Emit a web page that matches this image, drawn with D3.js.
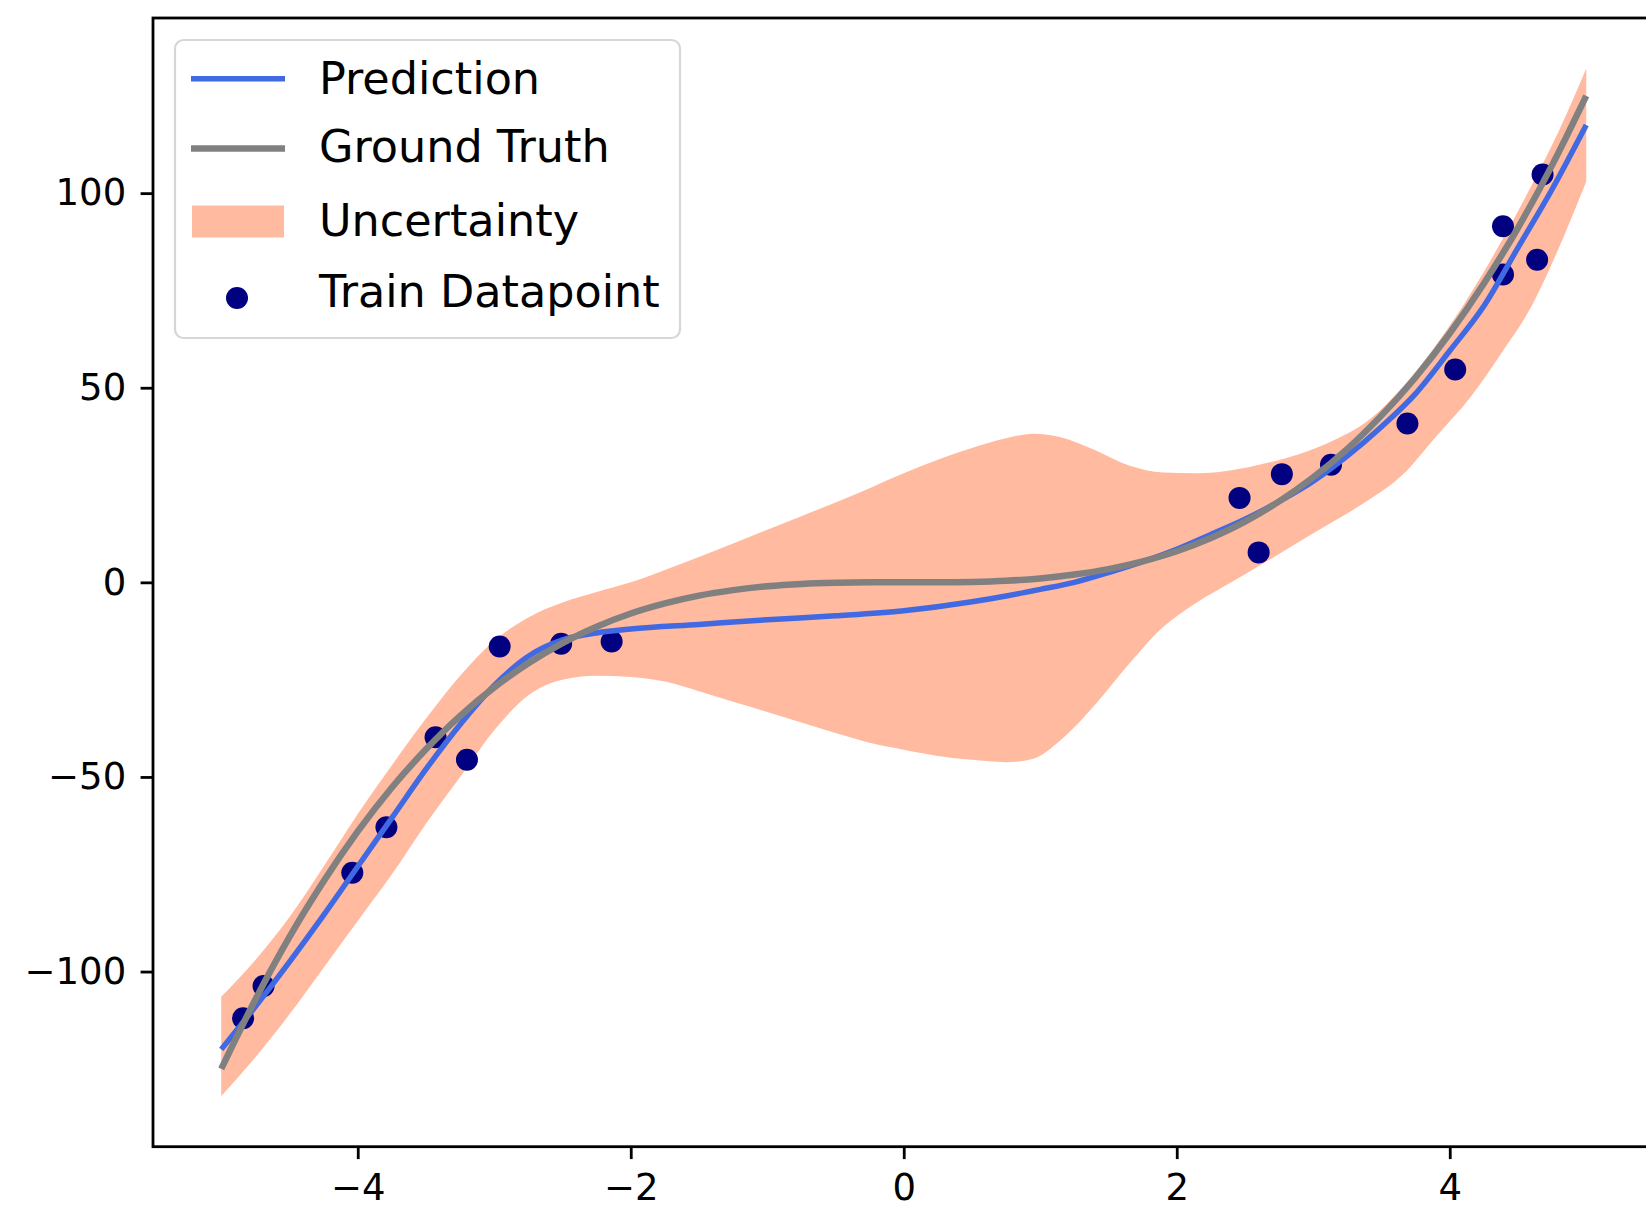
<!DOCTYPE html>
<html>
<head>
<meta charset="utf-8">
<script src="https://cdn.jsdelivr.net/npm/d3@7"></script>
<style>
	html, body { margin: 0; padding: 0; background: #ffffff; }
	svg { display: block; font-family: "DejaVu Sans", sans-serif; }
</style>
</head>
<body>
<svg id="chart" width="1646" height="1217"></svg>
<script>
// Prediction (blue line)
const predictionX = [-5, -4.75, -4.5, -4.25, -4, -3.75, -3.5, -3.25, -3, -2.75, -2.5, -2.25, -2, -1.5, -1, -0.5, 0, 0.5, 0.75, 1, 1.25, 1.5, 1.75, 2, 2.25, 2.5, 2.75, 3, 3.25, 3.5, 3.75, 4, 4.25, 4.5, 4.75, 5];
const predictionY = [-120, -109, -97.5, -85.5, -73, -60.5, -48, -36.5, -26.5, -19, -14.8, -13, -12, -10.8, -9.6, -8.6, -7.3, -5, -3.5, -1.8, 0, 2.5, 5.3, 8.5, 12.3, 16.2, 20.8, 26, 32.5, 40, 48.5, 59.5, 71, 86, 101, 117.5];

// Ground truth (gray line)
const truthX = [-5, -4.75, -4.5, -4.25, -4, -3.75, -3.5, -3.25, -3, -2.75, -2.5, -2.25, -2, -1.75, -1.5, -1.25, -1, -0.75, -0.5, -0.25, 0, 0.25, 0.5, 0.75, 1, 1.25, 1.5, 1.75, 2, 2.25, 2.5, 2.75, 3, 3.25, 3.5, 3.75, 4, 4.25, 4.5, 4.75, 5];
const truthY = [-125, -107.2, -91.1, -76.8, -64, -52.7, -42.9, -34.3, -27, -20.8, -15.6, -11.4, -8, -5.4, -3.4, -2, -1, -0.4, -0.1, 0, 0, 0, 0.1, 0.4, 1, 2, 3.4, 5.4, 8, 11.4, 15.6, 20.8, 27, 34.3, 42.9, 52.7, 64, 76.8, 91.1, 107.2, 125];

// Uncertainty band
const bandX = [-5, -4.75, -4.5, -4.25, -4, -3.75, -3.5, -3.25, -3, -2.75, -2.5, -2.25, -2, -1.75, -1.5, -1.25, -1, -0.75, -0.5, -0.25, 0, 0.25, 0.5, 0.75, 0.95, 1.15, 1.4, 1.65, 1.9, 2.15, 2.4, 2.65, 2.9, 3.15, 3.4, 3.65, 3.9, 4.15, 4.4, 4.6, 4.8, 5];
const bandUpper = [-106.5, -97, -86, -73, -59.5, -47, -35, -24, -15, -9, -5.2, -2.5, 0, 3.2, 6.5, 10, 13.5, 17, 20.5, 24.2, 28, 31.5, 34.5, 37, 38.2, 37.3, 34, 30, 28.2, 28, 28.8, 30.6, 33, 36.5, 41.5, 50, 61, 74, 89, 102, 116, 132];
const bandLower = [-132, -122, -111, -99, -87, -75, -62, -50, -38, -29, -25, -24, -24.3, -25.5, -28, -30.7, -33.3, -36, -38.7, -41.2, -43, -44.6, -45.6, -46.2, -45.3, -40.5, -31.5, -21, -11.5, -5.1, 0, 5.2, 10.5, 15.7, 21, 27.5, 37.5, 47.5, 60, 71, 86, 103];

// Train datapoints
const trainX = [-4.84, -4.69, -4.04, -3.79, -3.43, -3.20, -2.96, -2.51, -2.14, 2.46, 2.60, 2.77, 3.13, 3.69, 4.04, 4.39, 4.39, 4.64, 4.68];
const trainY = [-112, -103.7, -74.6, -62.9, -39.8, -45.6, -16.5, -15.8, -15.2, 21.7, 7.7, 27.8, 30.2, 40.8, 54.7, 79.1, 91.5, 82.9, 104.8];

// Axes
const xDomain = [-5.5, 5.5];
const yDomain = [-145, 145];
const xTicks = [-4, -2, 0, 2, 4];
const yTicks = [-100, -50, 0, 50, 100];

// Legend
const legendLabels = ["Prediction", "Ground Truth", "Uncertainty", "Train Datapoint"];

const colors = {
	prediction: "#4169E1",
	truth: "#808080",
	band: "#FFA07A",
	train: "#000080"
};


function drawChart(svgElement) {
	const svg = d3.select(svgElement);

	// Plot area in pixels (right spine lies just outside the picture)
	const plot = { left: 153, top: 18, right: 1654.5, bottom: 1146.7 };

	const x = d3.scaleLinear().domain(xDomain).range([plot.left, plot.right]);
	const y = d3.scaleLinear().domain(yDomain).range([plot.bottom, plot.top]);

	const tickSize = 12.4;
	const fontSize = 37;

	// Uncertainty band
	const bandPoints = bandX.map((value, i) => ({ x: value, lo: bandLower[i], hi: bandUpper[i] }));
	svg.append("path")
		.datum(bandPoints)
		.attr("fill", colors.band)
		.attr("fill-opacity", 0.72)
		.attr("d", d3.area()
			.curve(d3.curveMonotoneX)
			.x(d => x(d.x))
			.y0(d => y(d.lo))
			.y1(d => y(d.hi)));

	// Train datapoints
	svg.append("g")
		.selectAll("circle")
		.data(trainX.map((value, i) => ({ x: value, y: trainY[i] })))
		.join("circle")
		.attr("cx", d => x(d.x))
		.attr("cy", d => y(d.y))
		.attr("r", 11)
		.attr("fill", colors.train);

	const line = d3.line()
		.curve(d3.curveMonotoneX)
		.x(d => x(d.x))
		.y(d => y(d.y));

	// Prediction line
	svg.append("path")
		.datum(predictionX.map((value, i) => ({ x: value, y: predictionY[i] })))
		.attr("fill", "none")
		.attr("stroke", colors.prediction)
		.attr("stroke-width", 5.5)
		.attr("d", line);

	// Ground truth line
	svg.append("path")
		.datum(truthX.map((value, i) => ({ x: value, y: truthY[i] })))
		.attr("fill", "none")
		.attr("stroke", colors.truth)
		.attr("stroke-width", 6.5)
		.attr("d", line);

	// X axis
	const xAxis = svg.append("g")
		.attr("transform", `translate(0, ${plot.bottom})`)
		.call(d3.axisBottom(x).tickValues(xTicks).tickSize(tickSize).tickPadding(tickSize + 1).tickFormat(d3.format("d")));

	// Y axis
	const yAxis = svg.append("g")
		.attr("transform", `translate(${plot.left}, 0)`)
		.call(d3.axisLeft(y).tickValues(yTicks).tickSize(tickSize).tickPadding(tickSize + 2).tickFormat(d3.format("d")));

	for (const axis of [xAxis, yAxis]) {
		axis.select(".domain").remove();
		axis.selectAll(".tick line").attr("stroke", "#000").attr("stroke-width", 2.8);
		axis.selectAll(".tick text")
			.attr("fill", "#000")
			.style("font-family", "'DejaVu Sans', sans-serif")
			.style("font-size", `${fontSize}px`);
	}
	xAxis.selectAll(".tick text").attr("dy", "0.75em");

	// Spines
	svg.append("rect")
		.attr("x", plot.left)
		.attr("y", plot.top)
		.attr("width", plot.right - plot.left)
		.attr("height", plot.bottom - plot.top)
		.attr("fill", "none")
		.attr("stroke", "#000")
		.attr("stroke-width", 2.8);

	drawLegend(svg);
}


function drawLegend(svg) {
	const legendFontSize = 44.5;
	const box = { x: 175, y: 40, width: 505, height: 298 };
	const rowY = [78.7, 148.5, 221.5, 292];
	const textY = [78, 146, 219.5, 290.5];
	const handleX0 = 191;
	const handleX1 = 285;
	const textX = 319;

	const legend = svg.append("g").attr("class", "legend");

	legend.append("rect")
		.attr("x", box.x)
		.attr("y", box.y)
		.attr("width", box.width)
		.attr("height", box.height)
		.attr("rx", 8.5)
		.attr("fill", "#ffffff")
		.attr("fill-opacity", 0.8)
		.attr("stroke", "#d6d6d6")
		.attr("stroke-width", 2.2);

	// Line handles
	legend.append("line")
		.attr("x1", handleX0).attr("x2", handleX1)
		.attr("y1", rowY[0]).attr("y2", rowY[0])
		.attr("stroke", colors.prediction)
		.attr("stroke-width", 5.5);

	legend.append("line")
		.attr("x1", handleX0).attr("x2", handleX1)
		.attr("y1", rowY[1]).attr("y2", rowY[1])
		.attr("stroke", colors.truth)
		.attr("stroke-width", 6.5);

	// Patch handle
	legend.append("rect")
		.attr("x", handleX0 + 1)
		.attr("y", rowY[2] - 16)
		.attr("width", handleX1 - handleX0 - 2)
		.attr("height", 32)
		.attr("fill", colors.band)
		.attr("fill-opacity", 0.72);

	// Marker handle
	legend.append("circle")
		.attr("cx", 237)
		.attr("cy", rowY[3] + 6)
		.attr("r", 11)
		.attr("fill", colors.train);

	legend.selectAll("text")
		.data(legendLabels)
		.join("text")
		.attr("x", textX)
		.attr("y", (label, i) => textY[i])
		.attr("dy", "0.36em")
		.attr("fill", "#000")
		.style("font-family", "'DejaVu Sans', sans-serif")
		.style("font-size", `${legendFontSize}px`)
		.text(label => label);
}


drawChart(document.getElementById("chart"));
</script>
</body>
</html>
